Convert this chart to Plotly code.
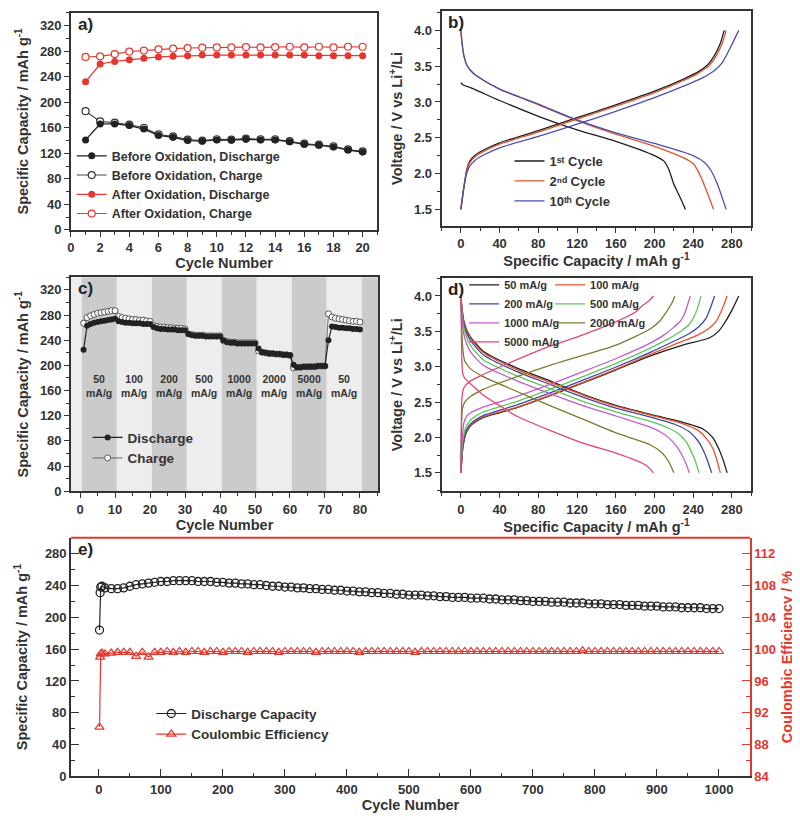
import plotly.graph_objects as go

# ---------------- panel a : cycling before / after oxidation
cycles_a = list(range(1, 21))
before_dis = [141, 166, 166, 163.5, 158, 148, 145, 140, 139, 141, 140.5, 142, 141, 141, 138, 134, 132.5, 130, 125, 122]
before_chg = [186, 170, 168, 165, 160, 149.5, 146.5, 141.5, 140, 142, 141.5, 143, 142, 142, 139, 135, 133.5, 131, 126, 123]
after_dis = [232, 260, 264, 266.5, 269, 271, 272, 273, 274, 274, 274, 274, 274, 274, 274, 274, 273, 273, 273, 273]
after_chg = [271, 272, 275.5, 279.5, 281, 283, 284, 285, 285.5, 286, 286, 286.5, 286, 286.5, 287, 286, 287, 286, 287, 287]

# ---------------- panel b : voltage profiles, cycles 1/2/10
b_dis1_cap = [0, 2, 10, 20, 40, 80, 120, 160, 200, 210, 215, 220, 226, 232]
b_dis1_v = [3.27, 3.24, 3.20, 3.14, 3.02, 2.80, 2.61, 2.45, 2.25, 2.17, 2.05, 1.85, 1.68, 1.5]
b_chg1_cap = [0, 3, 6, 9, 15, 25, 40, 80, 120, 160, 200, 230, 245, 255, 262, 268, 272]
b_chg1_v = [1.5, 1.8, 2.05, 2.17, 2.26, 2.34, 2.43, 2.60, 2.78, 2.96, 3.15, 3.32, 3.42, 3.52, 3.65, 3.82, 4.0]
b_dis2_cap = [0, 1, 3, 6, 10, 20, 40, 80, 120, 160, 200, 230, 240, 248, 254, 261]
b_dis2_v = [4.0, 3.85, 3.65, 3.52, 3.44, 3.33, 3.18, 2.96, 2.74, 2.55, 2.38, 2.22, 2.14, 1.95, 1.75, 1.5]
b_chg2_cap = [0, 3, 6, 9, 15, 25, 40, 80, 120, 160, 200, 230, 245, 256, 264, 270, 274]
b_chg2_v = [1.5, 1.8, 2.03, 2.15, 2.24, 2.32, 2.41, 2.58, 2.76, 2.94, 3.13, 3.30, 3.40, 3.50, 3.65, 3.82, 4.0]
b_dis10_cap = [0, 1, 3, 6, 10, 20, 40, 80, 120, 160, 200, 240, 252, 258, 265, 274]
b_dis10_v = [4.0, 3.85, 3.65, 3.52, 3.44, 3.33, 3.18, 2.97, 2.75, 2.57, 2.42, 2.25, 2.15, 2.05, 1.85, 1.5]
b_chg10_cap = [0, 3, 6, 9, 15, 25, 40, 80, 120, 160, 200, 230, 250, 262, 270, 278, 287]
b_chg10_v = [1.5, 1.8, 2.0, 2.1, 2.19, 2.27, 2.36, 2.52, 2.69, 2.87, 3.06, 3.22, 3.34, 3.44, 3.55, 3.75, 4.0]

# ---------------- panel c : rate capability
rates_c = ["50", "100", "200", "500", "1000", "2000", "5000", "50"]
cycles_c = list(range(1, 81))
rate_dis = [225, 263, 266, 268, 269, 270, 271, 272, 273, 274,
            270, 269, 268, 268, 267, 267, 267, 266, 266, 266,
            261, 259, 258, 258, 257, 257, 257, 256, 256, 256,
            250, 248, 247, 247, 247, 246, 246, 246, 246, 246,
            240, 237, 236, 236, 235, 235, 235, 235, 235, 235,
            227, 221, 220, 219, 219, 218, 218, 217, 217, 216,
            201, 197, 197, 198, 198, 198, 198, 199, 199, 199,
            240, 262, 261, 260, 260, 259, 259, 258, 258, 257]
rate_chg = [267, 276, 279, 281, 283, 284, 285, 286, 287, 287,
            278, 276, 275, 274, 273, 273, 272, 272, 271, 270,
            263, 262, 261, 261, 260, 260, 259, 259, 259, 258,
            250, 249, 248, 248, 248, 247, 247, 247, 247, 247,
            239, 238, 237, 237, 236, 236, 236, 236, 236, 236,
            223, 221, 220, 219, 219, 218, 218, 217, 217, 216,
            196, 197, 197, 198, 198, 198, 198, 199, 199, 199,
            282, 277, 275, 274, 273, 272, 271, 270, 270, 269]

# ---------------- panel d : voltage profiles at different rates
d_rates = ["50", "100", "200", "500", "1000", "2000", "5000"]
d_dis_cap = {
    "50": [0, 1, 3, 6, 10, 23, 58, 92, 126, 161, 195, 230, 250, 260, 266, 271, 275],
    "100": [0, 1, 3, 6, 10, 23, 58, 92, 126, 161, 195, 228, 245, 254, 260, 264, 268],
    "200": [0, 1, 3, 6, 10, 23, 58, 92, 126, 161, 195, 222, 236, 245, 250, 254, 259],
    "500": [0, 1, 3, 6, 10, 23, 58, 92, 126, 161, 195, 215, 226, 233, 238, 242, 246],
    "1000": [0, 1, 3, 6, 10, 23, 58, 92, 126, 161, 195, 207, 216, 223, 228, 232, 236],
    "2000": [0, 1, 2, 4, 10, 23, 58, 92, 126, 161, 195, 208, 215, 220],
    "5000": [0, 0.5, 1, 2, 5, 10, 23, 40, 58, 92, 126, 160, 180, 192, 199],
}
d_dis_v = {
    "50": [4.0, 3.85, 3.65, 3.52, 3.42, 3.22, 2.98, 2.80, 2.61, 2.45, 2.33, 2.21, 2.12, 2.0, 1.85, 1.68, 1.5],
    "100": [4.0, 3.84, 3.63, 3.5, 3.4, 3.2, 2.96, 2.78, 2.6, 2.44, 2.32, 2.2, 2.1, 1.98, 1.85, 1.7, 1.5],
    "200": [4.0, 3.82, 3.6, 3.47, 3.37, 3.17, 2.93, 2.75, 2.57, 2.41, 2.29, 2.18, 2.08, 1.95, 1.83, 1.7, 1.5],
    "500": [4.0, 3.78, 3.55, 3.41, 3.3, 3.1, 2.87, 2.69, 2.51, 2.36, 2.23, 2.13, 2.04, 1.93, 1.8, 1.67, 1.5],
    "1000": [4.0, 3.72, 3.46, 3.32, 3.21, 3.02, 2.8, 2.62, 2.45, 2.3, 2.15, 2.07, 1.98, 1.87, 1.76, 1.65, 1.5],
    "2000": [4.0, 3.5, 3.25, 3.08, 2.97, 2.86, 2.65, 2.45, 2.26, 2.06, 1.9, 1.78, 1.65, 1.5],
    "5000": [4.0, 3.5, 3.1, 2.9, 2.82, 2.76, 2.6, 2.45, 2.3, 2.1, 1.92, 1.78, 1.68, 1.6, 1.5],
}
d_chg_cap = {
    "50": [0, 2, 5, 8, 12, 23, 58, 92, 126, 161, 195, 230, 257, 266, 271, 280, 287],
    "100": [0, 2, 5, 8, 12, 23, 58, 92, 126, 161, 195, 225, 245, 257, 264, 270, 275],
    "200": [0, 2, 5, 8, 12, 23, 58, 92, 126, 161, 195, 220, 236, 246, 253, 258, 262],
    "500": [0, 2, 5, 8, 12, 23, 58, 92, 126, 161, 195, 215, 228, 236, 241, 245, 248],
    "1000": [0, 1, 3, 6, 10, 23, 58, 92, 126, 161, 195, 210, 220, 227, 231, 234, 237],
    "2000": [0, 0.5, 1.5, 4, 10, 23, 58, 92, 126, 161, 195, 205, 212, 218, 221],
    "5000": [0, 0.5, 1, 3, 10, 23, 58, 92, 126, 161, 180, 188, 195, 199],
}
d_chg_v = {
    "50": [1.5, 1.85, 2.05, 2.13, 2.19, 2.28, 2.42, 2.59, 2.77, 2.96, 3.15, 3.31, 3.41, 3.5, 3.59, 3.8, 4.0],
    "100": [1.5, 1.86, 2.06, 2.14, 2.2, 2.29, 2.43, 2.6, 2.78, 2.97, 3.17, 3.34, 3.45, 3.55, 3.65, 3.82, 4.0],
    "200": [1.5, 1.88, 2.08, 2.16, 2.22, 2.31, 2.46, 2.63, 2.81, 3.0, 3.2, 3.36, 3.47, 3.57, 3.68, 3.84, 4.0],
    "500": [1.5, 1.95, 2.14, 2.21, 2.27, 2.36, 2.51, 2.68, 2.86, 3.05, 3.26, 3.4, 3.51, 3.6, 3.71, 3.85, 4.0],
    "1000": [1.5, 1.9, 2.2, 2.3, 2.35, 2.43, 2.58, 2.75, 2.93, 3.12, 3.33, 3.45, 3.56, 3.65, 3.75, 3.87, 4.0],
    "2000": [1.5, 2.05, 2.4, 2.5, 2.58, 2.68, 2.86, 3.02, 3.16, 3.31, 3.53, 3.64, 3.77, 3.9, 4.0],
    "5000": [1.5, 2.2, 2.55, 2.7, 2.8, 2.89, 3.10, 3.29, 3.45, 3.64, 3.77, 3.87, 3.94, 4.0],
}
d_colors = {"50": "#1e1e1e", "100": "#e8532b", "200": "#3b4aa6", "500": "#5cc65c",
            "1000": "#c45cc8", "2000": "#7d7a2c", "5000": "#e2467c"}

# ---------------- panel e : long cycling
cycles_e = [1, 2, 3, 5] + list(range(10, 1001, 10))
cap_e = [184, 231, 238, 239, 237, 236, 236, 237, 239, 241, 242, 243, 244, 245,
         245, 246, 246, 246, 246, 245, 245, 245, 244, 244, 243, 243, 242, 242, 241,
         241, 240, 239, 239, 238, 238, 237, 237, 236, 236, 235, 235, 234, 234, 233,
         233, 232, 232, 231, 231, 230, 230, 229, 229, 228, 228, 228, 227, 227, 226,
         226, 225, 225, 225, 224, 224, 224, 223, 223, 222, 222, 222, 221, 221, 220,
         220, 220, 219, 219, 219, 218, 218, 218, 217, 217, 217, 216, 216, 216, 215,
         215, 215, 214, 214, 214, 213, 213, 213, 212, 212, 212, 212, 211, 211, 211]
ce_e = [90.2, 99.0, 99.4, 99.5, 99.4, 99.5, 99.6, 99.6, 99.6, 99.1, 99.6, 99.0, 99.6, 99.6,
        99.7, 99.6, 99.7, 99.6, 99.7, 99.7, 99.6, 99.7, 99.7, 99.6, 99.7, 99.7, 99.7, 99.6,
        99.7, 99.7, 99.7, 99.7, 99.6, 99.7, 99.7, 99.7, 99.7, 99.7, 99.6, 99.7, 99.7, 99.7,
        99.7, 99.7, 99.7, 99.6, 99.7, 99.7, 99.7, 99.7, 99.7, 99.7, 99.7, 99.7, 99.6, 99.7,
        99.7, 99.7, 99.7, 99.7, 99.7, 99.7, 99.7, 99.7, 99.7, 99.7, 99.7, 99.7, 99.7, 99.7,
        99.7, 99.7, 99.7, 99.7, 99.7, 99.7, 99.7, 99.7, 99.7, 99.7, 99.7, 99.8, 99.7, 99.7,
        99.7, 99.7, 99.7, 99.7, 99.7, 99.7, 99.7, 99.7, 99.7, 99.7, 99.7, 99.7, 99.7, 99.7,
        99.7, 99.7, 99.7, 99.7, 99.7, 99.7]

INK = "#333333"
RED = "#e3372f"
FONT = "Liberation Sans"

fig = go.Figure()

# panel a (charge drawn first so filled discharge points sit on top)
fig.add_trace(go.Scatter(x=cycles_a, y=before_chg, name="Before Oxidation, Charge", mode="lines+markers",
                         line=dict(color="#444", width=1.1), legendrank=2,
                         marker=dict(symbol="circle", size=7, color="white", line=dict(color="#333", width=1.2)),
                         xaxis="x", yaxis="y", legend="legend"))
fig.add_trace(go.Scatter(x=cycles_a, y=before_dis, name="Before Oxidation, Discharge", mode="lines+markers",
                         line=dict(color="#222", width=1.3), marker=dict(symbol="circle", size=7, color="#222"),
                         xaxis="x", yaxis="y", legend="legend", legendrank=1))
fig.add_trace(go.Scatter(x=cycles_a, y=after_chg, name="After Oxidation, Charge", mode="lines+markers",
                         line=dict(color=RED, width=1.1), legendrank=4,
                         marker=dict(symbol="circle", size=7, color="white", line=dict(color=RED, width=1.2)),
                         xaxis="x", yaxis="y", legend="legend"))
fig.add_trace(go.Scatter(x=cycles_a, y=after_dis, name="After Oxidation, Discharge", mode="lines+markers",
                         line=dict(color=RED, width=1.3), marker=dict(symbol="circle", size=7, color=RED),
                         xaxis="x", yaxis="y", legend="legend", legendrank=3))

# panel b
b_sets = [
    ("1ˢᵗ Cycle", "#1e1e1e", b_dis1_cap, b_dis1_v, b_chg1_cap, b_chg1_v),
    ("2ⁿᵈ Cycle", "#e0532e", b_dis2_cap, b_dis2_v, b_chg2_cap, b_chg2_v),
    ("10ᵗʰ Cycle", "#4b4fae", b_dis10_cap, b_dis10_v, b_chg10_cap, b_chg10_v),
]
for name, col, dc, dv, cc, cv in b_sets:
    fig.add_trace(go.Scatter(x=dc, y=dv, name=name, mode="lines", line=dict(color=col, width=1.3, shape="spline", smoothing=0.6),
                             xaxis="x2", yaxis="y2", legend="legend2", legendgroup=name))
    fig.add_trace(go.Scatter(x=cc, y=cv, name=name, mode="lines", line=dict(color=col, width=1.3, shape="spline", smoothing=0.6),
                             xaxis="x2", yaxis="y2", legend="legend2", legendgroup=name, showlegend=False))

# panel c
fig.add_trace(go.Scatter(x=cycles_c, y=rate_chg, name="Charge", mode="lines+markers",
                         line=dict(color="#666", width=1), legendrank=2,
                         marker=dict(size=6, color="white", line=dict(color="#555", width=1)),
                         xaxis="x3", yaxis="y3", legend="legend3"))
fig.add_trace(go.Scatter(x=cycles_c, y=rate_dis, name="Discharge", mode="lines+markers",
                         line=dict(color="#222", width=1.2), marker=dict(size=6, color="#222"),
                         xaxis="x3", yaxis="y3", legend="legend3", legendrank=1))

# panel d
for i, r in enumerate(d_rates):
    lg = "legend4" if i % 2 == 0 else "legend5"
    col = d_colors[r]
    fig.add_trace(go.Scatter(x=d_dis_cap[r], y=d_dis_v[r], name=r + " mA/g", mode="lines",
                             line=dict(color=col, width=1.3, shape="spline", smoothing=0.6),
                             xaxis="x4", yaxis="y4", legend=lg, legendgroup=r))
    fig.add_trace(go.Scatter(x=d_chg_cap[r], y=d_chg_v[r], name=r + " mA/g", mode="lines",
                             line=dict(color=col, width=1.3, shape="spline", smoothing=0.6),
                             xaxis="x4", yaxis="y4", legend=lg, legendgroup=r, showlegend=False))

# panel e
fig.add_trace(go.Scatter(x=cycles_e, y=cap_e, name="Discharge Capacity", mode="lines+markers",
                         line=dict(color="#222", width=1.2),
                         marker=dict(symbol="circle-open", size=8, color="#222", line=dict(width=1.3)),
                         xaxis="x5", yaxis="y5", legend="legend6"))
fig.add_trace(go.Scatter(x=cycles_e, y=ce_e, name="Coulombic Efficiency", mode="lines+markers",
                         line=dict(color=RED, width=1.2),
                         marker=dict(symbol="triangle-up-open", size=8, color=RED, line=dict(width=1.2)),
                         xaxis="x6", yaxis="y6", legend="legend6"))

# background bands for panel c
edges = [0.5 + 10 * i for i in range(len(rates_c) + 1)]
shapes = []
band_x = [-2.6] + edges + [85.2]
for i in range(len(band_x) - 1):
    shade = "#cbcbcb" if i % 2 == 1 else "#ededed"
    shapes.append(dict(type="rect", xref="x3", yref="y3 domain", x0=band_x[i], x1=band_x[i + 1], y0=0, y1=1,
                       fillcolor=shade, line=dict(width=0), layer="below"))
# red top frame of panel e
shapes.append(dict(type="line", xref="x5 domain", yref="y5 domain", x0=0, x1=1, y0=1, y1=1,
                   line=dict(color=RED, width=2)))

annotations = []
for i, r in enumerate(rates_c):
    annotations.append(dict(x=edges[i] + 5, y=167, xref="x3", yref="y3", text=r + "<br>mA/g", showarrow=False,
                            font=dict(family=FONT, size=10.5, color=INK, weight="bold")))
for lab, xa, ya in [("a)", "x", "y"), ("b)", "x2", "y2"), ("c)", "x3", "y3"), ("d)", "x4", "y4"), ("e)", "x5", "y5")]:
    annotations.append(dict(x=0.015 if lab != "e)" else 0.008, y=1.0, xref=xa + " domain", yref=ya + " domain",
                            text=lab, showarrow=False, xanchor="left", yanchor="top",
                            font=dict(family=FONT, size=17, color="#222", weight="bold")))


def axis(rng, dtick, mdtick, title="", tick0=0, inside=False, color=INK, fmt=None, mirror=True, standoff=6, **kw):
    d = dict(range=rng, dtick=dtick, tick0=tick0, showgrid=False, zeroline=False,
             showline=True, linecolor=color, linewidth=1.6, mirror=mirror,
             ticks="inside" if inside else "outside", ticklen=8 if inside else 5, tickwidth=1.4, tickcolor=color,
             minor=dict(dtick=mdtick, tick0=tick0, ticks="inside" if inside else "outside",
                        ticklen=4 if inside else 3, tickwidth=1.2, tickcolor=color, showgrid=False),
             tickfont=dict(family=FONT, size=13, color=color, weight="bold"),
             title=dict(text=title, standoff=standoff,
                        font=dict(family=FONT, size=14.5, color=color, weight="bold")))
    if fmt:
        d["tickformat"] = fmt
    d.update(kw)
    return d


cap_title = "Specific Capacity / mAh g<sup>-1</sup>"
volt_title = "Voltage / V vs Li<sup>+</sup>/Li"

leg_font = dict(family=FONT, size=12.5, color=INK, weight="bold")
fig.update_layout(
    width=800, height=820, margin=dict(l=0, r=0, t=0, b=0),
    paper_bgcolor="white", plot_bgcolor="white",
    font=dict(family=FONT, color=INK),
    xaxis=axis([0, 21], 2, 1, "Cycle Number", standoff=2, domain=[0.0741, 0.4588], anchor="y"),
    yaxis=axis([0, 340], 40, 20, cap_title, standoff=8, domain=[0.7268, 0.9939], anchor="x"),
    xaxis2=axis([-20, 300], 40, 20, cap_title, standoff=2, domain=[0.5396, 0.9288], anchor="y2"),
    yaxis2=axis([1.27, 4.27], 0.5, 0.25, volt_title, standoff=8, tick0=1.5, fmt=".1f",
                domain=[0.7317, 0.9963], anchor="x2"),
    xaxis3=axis([-2.6, 85.2], 10, 5, "Cycle Number", standoff=2, domain=[0.0741, 0.46], anchor="y3"),
    yaxis3=axis([0, 340], 40, 20, cap_title, standoff=8, domain=[0.4049, 0.6683], anchor="x3"),
    xaxis4=axis([-20, 300], 40, 20, cap_title, standoff=2, domain=[0.5396, 0.9288], anchor="y4"),
    yaxis4=axis([1.24, 4.25], 0.5, 0.25, volt_title, standoff=8, tick0=1.5, fmt=".1f",
                domain=[0.4049, 0.6671], anchor="x4"),
    xaxis5=axis([-45, 1050], 100, 50, "Cycle Number", standoff=2, inside=True, mirror=False,
                domain=[0.0741, 0.9271], anchor="y5"),
    yaxis5=axis([0, 300], 40, 20, cap_title, standoff=14, inside=True, mirror=False,
                domain=[0.0537, 0.3476], anchor="x5"),
    xaxis6=dict(overlaying="x5", range=[-45, 1050], visible=False, anchor="y6"),
    yaxis6=axis([84, 114], 4, 2, "Coulombic Efficiency / %", standoff=6, tick0=84, inside=True, color=RED,
                mirror=False, overlaying="y5", side="right", anchor="x6"),
    legend=dict(x=0.075, y=0.836, xanchor="left", yanchor="top", font=leg_font, bgcolor="rgba(0,0,0,0)",
                itemwidth=30, tracegroupgap=0),
    legend2=dict(x=0.625, y=0.830, xanchor="left", yanchor="top", font=dict(family=FONT, size=13, color=INK, weight="bold"),
                 bgcolor="rgba(0,0,0,0)", itemwidth=30, tracegroupgap=0),
    legend3=dict(x=0.095, y=0.490, xanchor="left", yanchor="top", itemwidth=30, tracegroupgap=0,
                 font=dict(family=FONT, size=13.5, color=INK, weight="bold"), bgcolor="rgba(0,0,0,0)"),
    legend4=dict(x=0.568, y=0.677, xanchor="left", yanchor="top", itemwidth=30, tracegroupgap=0,
                 font=dict(family=FONT, size=11, color=INK, weight="bold"), bgcolor="rgba(0,0,0,0)"),
    legend5=dict(x=0.676, y=0.677, xanchor="left", yanchor="top", itemwidth=30, tracegroupgap=0,
                 font=dict(family=FONT, size=11, color=INK, weight="bold"), bgcolor="rgba(0,0,0,0)"),
    legend6=dict(x=0.175, y=0.150, xanchor="left", yanchor="top", itemwidth=30, tracegroupgap=0,
                 font=dict(family=FONT, size=13.5, color=INK, weight="bold"), bgcolor="rgba(0,0,0,0)"),
    shapes=shapes, annotations=annotations,
)

fig.write_html("out.html")
